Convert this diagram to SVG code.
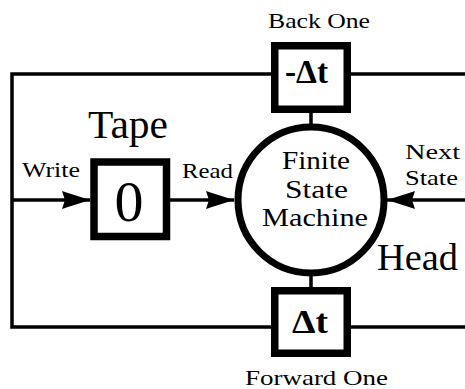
<svg xmlns="http://www.w3.org/2000/svg" width="465" height="389" viewBox="0 0 465 389">
<style>
.ln{fill:none;stroke:#000;stroke-width:3.5}
.box{fill:#fff;stroke:#000;stroke-width:7.5}
.lbl{font-family:"Liberation Serif","DejaVu Serif",serif;fill:#000}
.big{font-family:"Liberation Serif",serif;fill:#000}
.dt{font-family:"Liberation Serif",serif;font-weight:bold;fill:#000}
</style>
<defs>
<marker id="ah" viewBox="0 0 28 18" refX="28" refY="9" markerWidth="28" markerHeight="18" markerUnits="userSpaceOnUse" orient="auto">
<path d="M0,0 L6,2 L28,9 L6,16 L0,18 L3,9 Z" fill="#000"/>
</marker>
</defs>
<rect width="465" height="389" fill="#fff"/>
<g id="connectors">
<polyline class="ln" points="465,74 346,74"/>
<polyline class="ln" points="276,74 12,74 12,327 276,327"/>
<polyline class="ln" points="346,327 465,327"/>
<line class="ln" x1="311" y1="110" x2="311" y2="130"/>
<line class="ln" x1="311" y1="270" x2="311" y2="290"/>
<line class="ln" x1="12" y1="200" x2="90" y2="200" marker-end="url(#ah)"/>
<line class="ln" x1="166" y1="200" x2="234" y2="200" marker-end="url(#ah)"/>
<line class="ln" x1="465" y1="200" x2="387" y2="200" marker-end="url(#ah)"/>
</g>
<g id="back-one">
<rect class="box" x="274.75" y="45.75" width="72.5" height="63.5"/>
<text class="dt" x="285" y="83" font-size="33" textLength="43" lengthAdjust="spacingAndGlyphs">-Δt</text>
<text class="lbl" x="268" y="28" font-size="22" textLength="102" lengthAdjust="spacingAndGlyphs">Back One</text>
</g>
<g id="tape">
<rect class="box" x="94" y="162" width="72.5" height="74.5"/>
<text class="big" x="129" y="221" font-size="58" text-anchor="middle">0</text>
<text class="big" x="88" y="138" font-size="39" textLength="80" lengthAdjust="spacingAndGlyphs">Tape</text>
</g>
<g id="fsm">
<circle cx="311" cy="200" r="73" fill="#fff" stroke="#000" stroke-width="7"/>
<text class="lbl" x="282" y="169" font-size="25" textLength="68" lengthAdjust="spacingAndGlyphs">Finite</text>
<text class="lbl" x="285" y="198" font-size="25" textLength="63" lengthAdjust="spacingAndGlyphs">State</text>
<text class="lbl" x="262" y="226" font-size="25" textLength="106" lengthAdjust="spacingAndGlyphs">Machine</text>
</g>
<g id="forward-one">
<rect class="box" x="274.75" y="290.75" width="72.5" height="62.5"/>
<text class="dt" x="292" y="333" font-size="33" textLength="36" lengthAdjust="spacingAndGlyphs">Δt</text>
<text class="lbl" x="245" y="385" font-size="22" textLength="143" lengthAdjust="spacingAndGlyphs">Forward One</text>
</g>
<g id="labels">
<text class="lbl" x="22" y="177" font-size="21" textLength="58" lengthAdjust="spacingAndGlyphs">Write</text>
<text class="lbl" x="182" y="178" font-size="21" textLength="51" lengthAdjust="spacingAndGlyphs">Read</text>
<text class="lbl" x="405" y="159" font-size="21" textLength="55" lengthAdjust="spacingAndGlyphs">Next</text>
<text class="lbl" x="405" y="185" font-size="21" textLength="53" lengthAdjust="spacingAndGlyphs">State</text>
<text class="big" x="377" y="270" font-size="37" textLength="81" lengthAdjust="spacingAndGlyphs">Head</text>
</g>
</svg>
